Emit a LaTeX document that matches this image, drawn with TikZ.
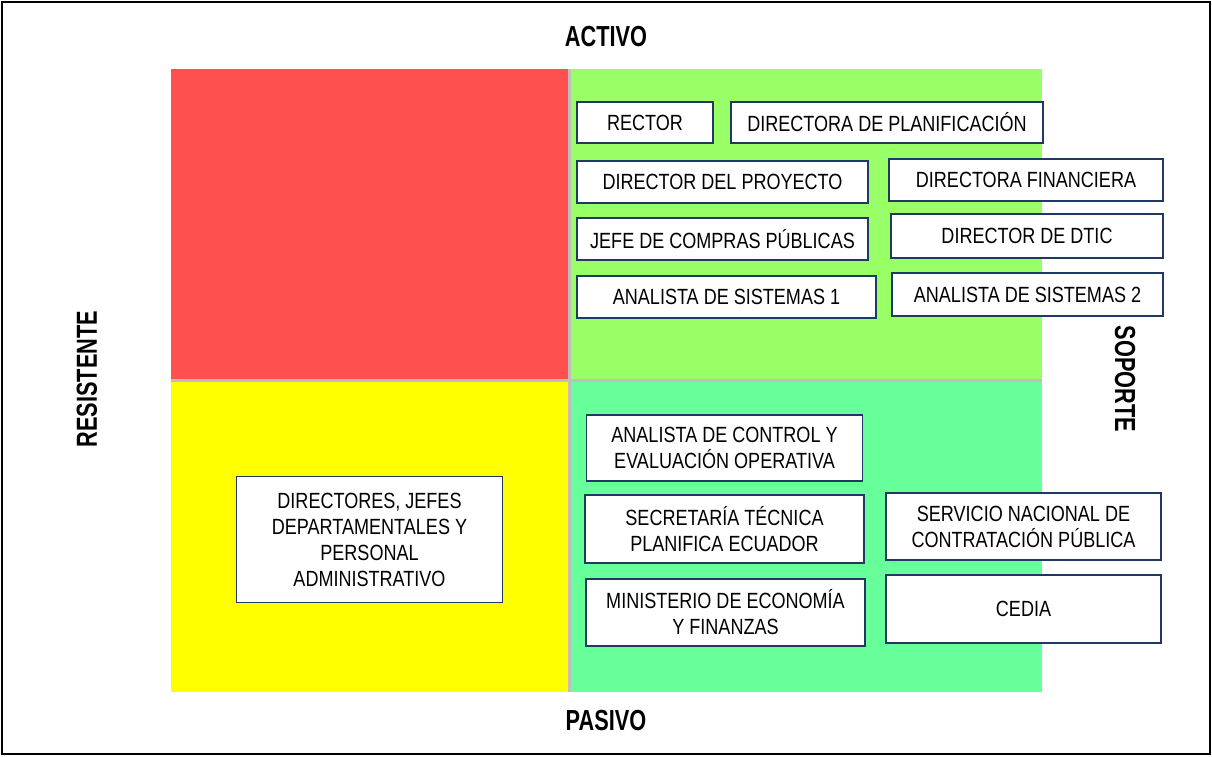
\documentclass[tikz,border=0pt]{standalone}
\usepackage{fontspec}
\setmainfont{Liberation Sans}
\newfontfamily\boxfont[FakeStretch=0.82]{Liberation Sans}
\newfontfamily\axisfont[FakeStretch=0.75]{Liberation Sans}
\definecolor{resistred}{RGB}{255,80,80}
\definecolor{activegreen}{RGB}{153,255,102}
\definecolor{passivegreen}{RGB}{102,255,153}
\definecolor{passiveyellow}{RGB}{255,255,0}
\definecolor{boxnavy}{RGB}{31,56,100}
\definecolor{divider}{RGB}{191,191,191}

\begin{document}
\begin{tikzpicture}[x=1pt,y=-1pt,
    actor/.style ={rectangle, draw=boxnavy, line width=1.2pt, fill=white, align=center,
      inner sep=0pt, font=\boxfont\fontsize{22}{26}\selectfont},
    axislabel/.style ={font=\axisfont\bfseries\fontsize{29}{32}\selectfont}]
   \useasboundingbox (0,0) rectangle (1212,756);
   \draw[line width=2pt] (2,2) rectangle (1210,754);

   \fill[resistred] (171,69) rectangle (569,380);
   \fill[activegreen] (569,69) rectangle (1042,380);
   \fill[passiveyellow] (171,380) rectangle (569,692);
   \fill[passivegreen] (569,380) rectangle (1042,692);
   \draw[divider, line width=3pt] (569,69) -- (569,692);
   \draw[divider, line width=3pt] (171,380) -- (1042,380);

   \node[axislabel] (activo) at (606,37) {ACTIVO};
   \node[axislabel] (pasivo) at (606,721) {PASIVO};
   \node[axislabel, rotate=90] (resistente) at (87,379) {RESISTENTE};
   \node[axislabel, rotate=-90] (soporte) at (1125,379) {SOPORTE};

   \node[actor, minimum width=136, minimum height=41] (rector) at (645,122.5) {RECTOR};
   \node[actor, minimum width=312, minimum height=41] (dirplan) at (887,122.5) {DIRECTORA DE PLANIFICACIÓN};
   \node[actor, minimum width=291, minimum height=42] (dirproy) at (722.5,182) {DIRECTOR DEL PROYECTO};
   \node[actor, minimum width=274, minimum height=42] (dirfin) at (1026,180) {DIRECTORA FINANCIERA};
   \node[actor, minimum width=291, minimum height=42] (jefecomp) at (722.5,239) {JEFE DE COMPRAS PÚBLICAS};
   \node[actor, minimum width=272, minimum height=44] (dirdtic) at (1027,236) {DIRECTOR DE DTIC};
   \node[actor, minimum width=299, minimum height=42] (analista1) at (726.5,297) {ANALISTA DE SISTEMAS 1};
   \node[actor, minimum width=271, minimum height=43] (analista2) at (1027.5,294.5) {ANALISTA DE SISTEMAS 2};

   \node[actor, minimum width=276, minimum height=66] (control) at (724.5,448) {ANALISTA DE CONTROL Y\\EVALUACIÓN OPERATIVA};
   \node[actor, minimum width=279, minimum height=68] (senplades) at (724.5,529) {SECRETARÍA TÉCNICA\\PLANIFICA ECUADOR};
   \node[actor, minimum width=279, minimum height=67] (mef) at (725.5,612.5) {MINISTERIO DE ECONOMÍA\\Y FINANZAS};
   \node[actor, minimum width=275, minimum height=67] (sercop) at (1023.5,526.5) {SERVICIO NACIONAL DE\\CONTRATACIÓN PÚBLICA};
   \node[actor, minimum width=275, minimum height=68] (cedia) at (1023.5,609) {CEDIA};
   \node[actor, minimum width=266, minimum height=126] (personal) at (369.5,539.5) {DIRECTORES, JEFES\\DEPARTAMENTALES Y\\PERSONAL\\ADMINISTRATIVO};
 \end{tikzpicture}
\end{document}
